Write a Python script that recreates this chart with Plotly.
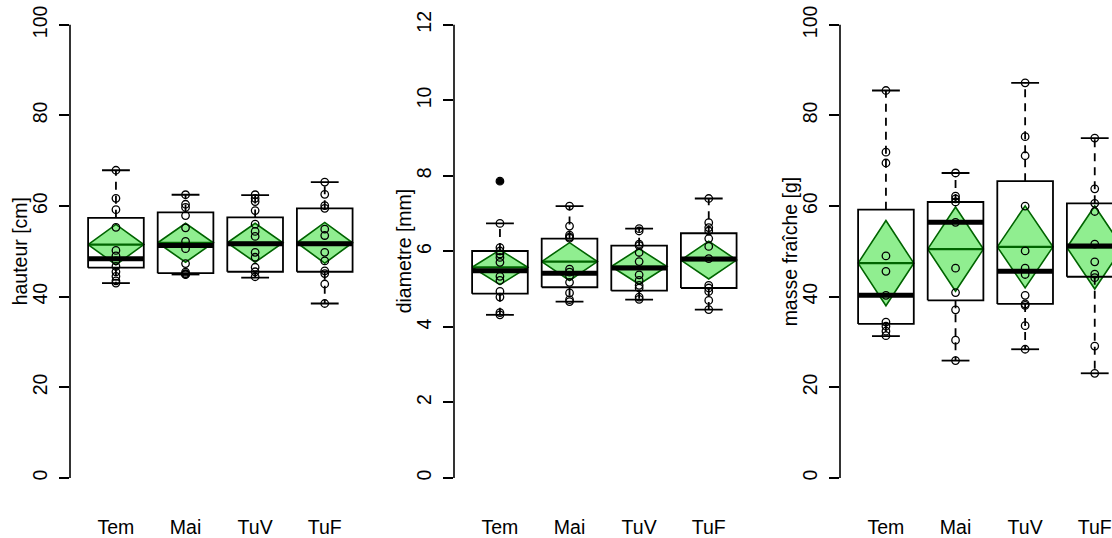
import plotly.graph_objects as go

# ---------------- data ----------------
categories = ["Tem", "Mai", "TuV", "TuF"]

# panel 1 : hauteur [cm]
hauteur_tem = [67.9, 61.7, 59.2, 55.3, 50.2, 49.0, 47.9, 46.7, 45.5, 44.5, 43.5, 43.0]
hauteur_mai = [62.5, 60.4, 59.7, 57.9, 55.2, 52.2, 50.6, 47.3, 45.4, 45.1, 44.9, 44.9]
hauteur_tuv = [62.5, 61.7, 61.0, 59.0, 56.0, 54.4, 53.3, 49.8, 48.7, 46.5, 45.5, 44.4]
hauteur_tuf = [65.3, 62.6, 60.1, 59.5, 54.9, 53.5, 49.8, 47.9, 45.7, 45.1, 42.8, 38.5]
hauteur_low = [43.0, 44.9, 44.2, 38.5]
hauteur_q1 = [46.4, 45.2, 45.5, 45.5]
hauteur_median = [48.4, 51.3, 51.7, 51.7]
hauteur_q3 = [57.4, 58.6, 57.5, 59.5]
hauteur_high = [67.9, 62.5, 62.4, 65.3]
hauteur_mean = [51.5, 51.9, 51.9, 51.9]
hauteur_ci = [4.45, 4.3, 4.3, 4.5]
hauteur_outliers = [[], [], [], []]
hauteur_ticks = [0, 20, 40, 60, 80, 100]

# panel 2 : diametre [mm]
diametre_tem = [7.86, 6.74, 6.10, 6.01, 5.93, 5.84, 5.71, 5.34, 5.23, 4.94, 4.79, 4.38, 4.32]
diametre_mai = [7.20, 6.67, 6.43, 6.38, 6.35, 5.53, 5.45, 5.34, 5.18, 4.90, 4.72, 4.67]
diametre_tuv = [6.60, 6.54, 6.19, 6.15, 5.97, 5.73, 5.38, 5.23, 5.10, 5.03, 4.79, 4.73]
diametre_tuf = [7.40, 6.76, 6.63, 6.54, 6.34, 6.13, 5.81, 5.10, 5.03, 4.94, 4.70, 4.46]
diametre_low = [4.32, 4.67, 4.72, 4.46]
diametre_q1 = [4.88, 5.05, 4.96, 5.03]
diametre_median = [5.49, 5.42, 5.56, 5.80]
diametre_q3 = [6.01, 6.34, 6.15, 6.48]
diametre_high = [6.74, 7.20, 6.60, 7.40]
diametre_mean = [5.58, 5.73, 5.60, 5.77]
diametre_ci = [0.46, 0.50, 0.47, 0.50]
diametre_outliers = [[7.86], [], [], []]
diametre_ticks = [0, 2, 4, 6, 8, 10, 12]

# panel 3 : masse fraîche [g]
masse_tem = [85.5, 71.9, 69.5, 49.0, 45.6, 40.3, 34.4, 33.5, 32.4, 31.4]
masse_mai = [67.3, 62.2, 61.6, 60.9, 56.4, 46.3, 40.9, 37.1, 30.4, 25.9]
masse_tuv = [87.2, 75.3, 71.1, 60.0, 50.1, 46.3, 44.9, 40.3, 38.4, 38.1, 33.6, 28.4]
masse_tuf = [75.0, 63.8, 60.6, 58.8, 51.6, 47.7, 45.0, 44.2, 29.1, 23.1]
masse_low = [31.3, 25.9, 28.4, 23.1]
masse_q1 = [34.0, 39.2, 38.4, 44.4]
masse_median = [40.3, 56.4, 45.6, 51.2]
masse_q3 = [59.2, 60.9, 65.5, 60.6]
masse_high = [85.5, 67.3, 87.2, 75.0]
masse_mean = [47.4, 50.5, 51.0, 50.85]
masse_ci = [9.4, 9.3, 9.05, 9.15]
masse_outliers = [[], [], [], []]
masse_ticks = [0, 20, 40, 60, 80, 100]

panel_titles = ["hauteur [cm]", "diametre [mm]", "masse fraîche [g]"]

panels = [
    dict(points=[hauteur_tem, hauteur_mai, hauteur_tuv, hauteur_tuf], low=hauteur_low, q1=hauteur_q1,
         med=hauteur_median, q3=hauteur_q3, high=hauteur_high, mean=hauteur_mean, ci=hauteur_ci,
         out=hauteur_outliers, ticks=hauteur_ticks),
    dict(points=[diametre_tem, diametre_mai, diametre_tuv, diametre_tuf], low=diametre_low, q1=diametre_q1,
         med=diametre_median, q3=diametre_q3, high=diametre_high, mean=diametre_mean, ci=diametre_ci,
         out=diametre_outliers, ticks=diametre_ticks),
    dict(points=[masse_tem, masse_mai, masse_tuv, masse_tuf], low=masse_low, q1=masse_q1,
         med=masse_median, q3=masse_q3, high=masse_high, mean=masse_mean, ci=masse_ci,
         out=masse_outliers, ticks=masse_ticks),
]

# ---------------- styling / geometry ----------------
FONT = "Liberation Sans, Arial, Helvetica, sans-serif"
FS = 19.5
W, H = 1112, 538
UNIT = 69.6                     # px per category
AXIS_PX = [70, 454, 840]        # left edge of each plot region
TOP_PX, BOT_PX = 5.7, 498.8     # full plot region
HALF = 0.4                      # half box width
STAPLE = 0.2
LIGHT = "#90EE90"
DARK = "#006400"

fig = go.Figure()
layout_axes = {}
shapes = []
annotations = []

for k, p in enumerate(panels):
    sfx = "" if k == 0 else str(k + 1)
    xa, ya = "x" + sfx, "y" + sfx
    xs_d, ys_d, xs_m, ys_m = [], [], [], []
    xs_b, ys_b, xs_w, ys_w, xs_s, ys_s = [], [], [], [], [], []
    xs_md, ys_md, xs_p, ys_p, xs_o, ys_o = [], [], [], [], [], []
    for i in range(len(categories)):
        c = i + 1
        m, h = p["mean"][i], p["ci"][i]
        xs_d += [c - HALF, c, c + HALF, c, c - HALF, None]
        ys_d += [m, m + h, m, m - h, m, None]
        xs_m += [c - HALF, c + HALF, None]
        ys_m += [m, m, None]
        xs_b += [c - HALF, c + HALF, c + HALF, c - HALF, c - HALF, None]
        ys_b += [p["q1"][i], p["q1"][i], p["q3"][i], p["q3"][i], p["q1"][i], None]
        xs_w += [c, c, None, c, c, None]
        ys_w += [p["q3"][i], p["high"][i], None, p["q1"][i], p["low"][i], None]
        xs_s += [c - STAPLE, c + STAPLE, None, c - STAPLE, c + STAPLE, None]
        ys_s += [p["high"][i], p["high"][i], None, p["low"][i], p["low"][i], None]
        xs_md += [c - HALF, c + HALF, None]
        ys_md += [p["med"][i], p["med"][i], None]
        xs_p += [c] * len(p["points"][i])
        ys_p += p["points"][i]
        xs_o += [c] * len(p["out"][i])
        ys_o += p["out"][i]

    common = dict(xaxis=xa, yaxis=ya, showlegend=False, hoverinfo="skip")
    fig.add_trace(go.Scatter(x=xs_d, y=ys_d, mode="lines", fill="toself", fillcolor=LIGHT,
                             line=dict(color=DARK, width=1.6), **common))
    fig.add_trace(go.Scatter(x=xs_m, y=ys_m, mode="lines", line=dict(color=DARK, width=2.2), **common))
    fig.add_trace(go.Scatter(x=xs_w, y=ys_w, mode="lines",
                             line=dict(color="black", width=1.8, dash="8px,6px"), **common))
    fig.add_trace(go.Scatter(x=xs_s, y=ys_s, mode="lines", line=dict(color="black", width=1.8), **common))
    fig.add_trace(go.Scatter(x=xs_b, y=ys_b, mode="lines", line=dict(color="black", width=1.8), **common))
    fig.add_trace(go.Scatter(x=xs_md, y=ys_md, mode="lines", line=dict(color="black", width=5), **common))
    fig.add_trace(go.Scatter(x=xs_o, y=ys_o, mode="markers",
                             marker=dict(symbol="circle", size=7, color="black"), **common))
    fig.add_trace(go.Scatter(x=xs_p, y=ys_p, mode="markers",
                             marker=dict(symbol="circle-open", size=7.5, color="black",
                                         line=dict(width=1.3, color="black")), **common))

    ticks = p["ticks"]
    span = ticks[-1] - ticks[0]
    # horizontal extent (clipped at the right edge of the page)
    x0 = AXIS_PX[k]
    x1 = min(x0 + 4.32 * UNIT, W)
    xmax = 0.34 + (x1 - x0) / UNIT
    # vertical extent (clipped at the top edge of the page if needed)
    ylo, yhi = ticks[0] - 0.04 * span, ticks[-1] + 0.04 * span
    ppu = (BOT_PX - TOP_PX) / (yhi - ylo)
    top = max(TOP_PX, 0.0)
    yhi_vis = yhi - (top - TOP_PX) / ppu
    layout_axes["xaxis" + sfx] = dict(
        domain=[x0 / W, x1 / W], range=[0.34, xmax], anchor=ya,
        tickmode="array", tickvals=[1, 2, 3, 4], ticktext=categories,
        showline=False, ticks="", showgrid=False, zeroline=False,
        tickfont=dict(family=FONT, size=FS, color="black"), ticklabelstandoff=17,
        ticklabeloverflow="allow", fixedrange=True)
    layout_axes["yaxis" + sfx] = dict(
        domain=[(H - BOT_PX) / H, (H - top) / H],
        range=[ylo, yhi_vis], anchor=xa,
        tickmode="array", tickvals=ticks, ticktext=[str(t) for t in ticks],
        ticks="outside", ticklen=10, tickwidth=1.6, tickcolor="black",
        showline=False, showgrid=False, zeroline=False, tickangle=-90,
        tickfont=dict(family=FONT, size=FS, color="black"), ticklabelstandoff=4,
        ticklabeloverflow="allow", fixedrange=True)
    shapes.append(dict(type="line", xref=xa + " domain", x0=0, x1=0, yref=ya,
                       y0=ticks[0], y1=ticks[-1], line=dict(color="black", width=1.6)))
    annotations.append(dict(text=panel_titles[k], xref="paper", yref="paper",
                            x=(x0 - 50) / W, y=(H - (TOP_PX + BOT_PX) / 2) / H,
                            xanchor="center", yanchor="middle", textangle=-90, showarrow=False,
                            font=dict(family=FONT, size=FS, color="black")))

fig.update_layout(
    width=W, height=H, autosize=False,
    margin=dict(l=0, r=0, t=0, b=0),
    paper_bgcolor="white", plot_bgcolor="white",
    shapes=shapes, annotations=annotations,
    **layout_axes,
)

# remove the default page margin so the figure sits at the window's top-left corner
fig.write_html("out.html", config={"displayModeBar": False},
               post_script="document.body.style.margin='0px';document.body.style.overflow='hidden';")
